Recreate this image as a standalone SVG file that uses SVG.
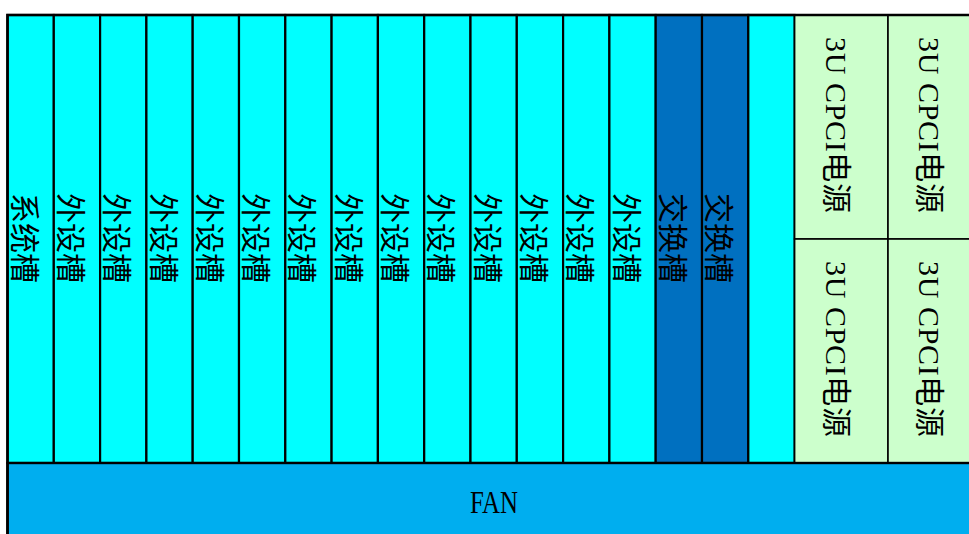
<svg xmlns="http://www.w3.org/2000/svg" width="969" height="534" viewBox="0 0 969 534">
<style>
.slot{fill:#00FFFF;stroke:#000;stroke-width:2.2}
.sw{fill:#0070C0;stroke:#000;stroke-width:2.2}
.pw{fill:#CCFFCC;stroke:#000;stroke-width:1.6}
.fan{fill:#00AEEF;stroke:#000;stroke-width:2.4}
.t{font-family:"Noto Sans CJK SC","Noto Sans CJK JP",sans-serif;font-size:30px;fill:#000;text-anchor:middle;dominant-baseline:central}
.p{font-family:"Liberation Serif","Noto Sans CJK SC",serif;font-size:30px;fill:#000;text-anchor:middle;dominant-baseline:central}
</style>
<rect x="0" y="0" width="969" height="534" fill="#fff"/>
<g id="slot1"><rect class="slot" x="7.5" y="15" width="46.3" height="448"/><text class="t" transform="translate(26.6,238) rotate(90)">系统槽</text></g>
<g id="slot2"><rect class="slot" x="53.8" y="15" width="46.3" height="448"/><text class="t" transform="translate(72.9,238) rotate(90)">外设槽</text></g>
<g id="slot3"><rect class="slot" x="100.1" y="15" width="46.3" height="448"/><text class="t" transform="translate(119.2,238) rotate(90)">外设槽</text></g>
<g id="slot4"><rect class="slot" x="146.4" y="15" width="46.3" height="448"/><text class="t" transform="translate(165.5,238) rotate(90)">外设槽</text></g>
<g id="slot5"><rect class="slot" x="192.7" y="15" width="46.3" height="448"/><text class="t" transform="translate(211.8,238) rotate(90)">外设槽</text></g>
<g id="slot6"><rect class="slot" x="239" y="15" width="46.3" height="448"/><text class="t" transform="translate(258.1,238) rotate(90)">外设槽</text></g>
<g id="slot7"><rect class="slot" x="285.3" y="15" width="46.3" height="448"/><text class="t" transform="translate(304.4,238) rotate(90)">外设槽</text></g>
<g id="slot8"><rect class="slot" x="331.6" y="15" width="46.3" height="448"/><text class="t" transform="translate(350.7,238) rotate(90)">外设槽</text></g>
<g id="slot9"><rect class="slot" x="377.9" y="15" width="46.3" height="448"/><text class="t" transform="translate(397,238) rotate(90)">外设槽</text></g>
<g id="slot10"><rect class="slot" x="424.2" y="15" width="46.3" height="448"/><text class="t" transform="translate(443.3,238) rotate(90)">外设槽</text></g>
<g id="slot11"><rect class="slot" x="470.5" y="15" width="46.3" height="448"/><text class="t" transform="translate(489.6,238) rotate(90)">外设槽</text></g>
<g id="slot12"><rect class="slot" x="516.8" y="15" width="46.3" height="448"/><text class="t" transform="translate(535.9,238) rotate(90)">外设槽</text></g>
<g id="slot13"><rect class="slot" x="563.1" y="15" width="46.3" height="448"/><text class="t" transform="translate(582.2,238) rotate(90)">外设槽</text></g>
<g id="slot14"><rect class="slot" x="609.4" y="15" width="46.3" height="448"/><text class="t" transform="translate(628.5,238) rotate(90)">外设槽</text></g>
<g id="switch1"><rect class="sw" x="655.7" y="15" width="46.3" height="448"/><text class="t" transform="translate(674.8,238) rotate(90)">交换槽</text></g>
<g id="switch2"><rect class="sw" x="702" y="15" width="46.3" height="448"/><text class="t" transform="translate(721.1,238) rotate(90)">交换槽</text></g>
<g id="slot17"><rect class="slot" x="748.3" y="15" width="46.3" height="448"/></g>
<g id="power1"><rect class="pw" x="794.6" y="15" width="93.4" height="224"/><text class="p" transform="translate(836,125) rotate(90)" textLength="176" lengthAdjust="spacing">3U CPCI电源</text></g>
<g id="power2"><rect class="pw" x="888" y="15" width="93.4" height="224"/><text class="p" transform="translate(929,125) rotate(90)" textLength="176" lengthAdjust="spacing">3U CPCI电源</text></g>
<g id="power3"><rect class="pw" x="794.6" y="239" width="93.4" height="224"/><text class="p" transform="translate(836,349) rotate(90)" textLength="176" lengthAdjust="spacing">3U CPCI电源</text></g>
<g id="power4"><rect class="pw" x="888" y="239" width="93.4" height="224"/><text class="p" transform="translate(929,349) rotate(90)" textLength="176" lengthAdjust="spacing">3U CPCI电源</text></g>
<g id="fan"><rect class="fan" x="7.5" y="463" width="975" height="80"/><text class="p" x="494" y="502" style="font-size:32px" textLength="48" lengthAdjust="spacingAndGlyphs">FAN</text></g>
<g id="frame"><path d="M7.5 540 V15 H975" fill="none" stroke="#000" stroke-width="2.6"/></g>
</svg>
